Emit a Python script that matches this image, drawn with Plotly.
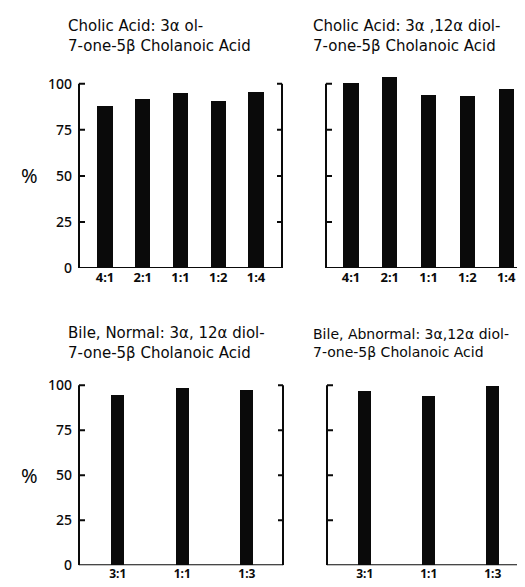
import plotly.graph_objects as go

W, H = 525, 587

# ---- data ----
cats_top = ["4:1", "2:1", "1:1", "1:2", "1:4"]
cats_bot = ["3:1", "1:1", "1:3"]
vals_tl = [88, 92, 95, 91, 95.5]
vals_tr = [100.5, 104, 94, 93.5, 97.5]
vals_bl = [94.5, 98, 97.3]
vals_br = [96.7, 94, 99.5]
yticks = [0, 25, 50, 75, 100]

titles = [
    "Cholic Acid: 3\u03b1 ol-<br>7-one-5\u03b2 Cholanoic Acid",
    "Cholic Acid: 3\u03b1 ,12\u03b1 diol-<br>7-one-5\u03b2 Cholanoic Acid",
    "Bile, Normal: 3\u03b1, 12\u03b1 diol-<br>7-one-5\u03b2 Cholanoic Acid",
    "Bile, Abnormal: 3\u03b1,12\u03b1 diol-<br>7-one-5\u03b2 Cholanoic Acid",
]

FONT = "Noto Sans"
TFONT = "DejaVu Sans"
INK = "#0a0a0a"

def px_x(p):
    return p / W

def px_y(p):
    return 1 - p / H

YMAX = 106
panels = [
    dict(l=71, r=274, b=264, t=77, ty=28, tx=58, tfs=15, cats=cats_top, vals=vals_tl, xr=[-0.69, 4.69], bw=0.4, left=True, fs=13),
    dict(l=318, r=516, b=264, t=77, ty=28, tx=303, tfs=15, cats=cats_top, vals=vals_tr, xr=[-0.645, 4.46], bw=0.39, left=False, fs=13),
    dict(l=71, r=275, b=566, t=383, ty=340, tx=58, tfs=15, cats=cats_bot, vals=vals_bl, xr=[-0.6, 2.56], bw=0.2, left=True, fs=12),
    dict(l=319, r=518, b=566, t=383, ty=340, tx=303, tfs=14, cats=cats_bot, vals=vals_br, xr=[-0.59, 2.52], bw=0.2, left=False, fs=12),
]

fig = go.Figure()
shapes = []
annotations = []

for i, p in enumerate(panels):
    n = "" if i == 0 else str(i + 1)
    xa, ya = "x" + n, "y" + n
    scale = (p["b"] - p["t"]) / 100.0
    top_px = p["b"] - YMAX * scale
    fig.add_trace(go.Bar(
        x=list(range(len(p["cats"]))), y=p["vals"], width=p["bw"],
        marker=dict(color=INK, line=dict(width=0)),
        xaxis=xa, yaxis=ya, showlegend=False, hoverinfo="y",
    ))
    fig.layout["xaxis" + n] = dict(
        domain=[px_x(p["l"]), px_x(p["r"])], range=p["xr"], anchor=ya,
        tickmode="array", tickvals=list(range(len(p["cats"]))), ticktext=p["cats"],
        showgrid=False, zeroline=False, showline=False, ticks="",
        tickfont=dict(family=FONT, size=p["fs"], color=INK, weight="bold"),
        ticklabelstandoff=0, fixedrange=True,
    )
    fig.layout["yaxis" + n] = dict(
        domain=[px_y(p["b"]), px_y(top_px)], range=[0, YMAX], anchor=xa,
        tickmode="array", tickvals=yticks, ticktext=[str(v) for v in yticks],
        showticklabels=p["left"], showgrid=False, zeroline=False, showline=False,
        ticks="", tickfont=dict(family=FONT, size=14, color=INK, weight=500),
        ticklabelstandoff=6, fixedrange=True,
    )
    wpx = p["r"] - p["l"]
    line = dict(color=INK, width=2)
    xd = xa + " domain"
    shapes.append(dict(type="line", xref=xd, yref=ya, x0=0, x1=0, y0=0, y1=100, line=line))
    shapes.append(dict(type="line", xref=xd, yref=ya, x0=1, x1=1, y0=0, y1=100, line=line))
    shapes.append(dict(type="line", xref=xd, yref=ya, x0=0, x1=1, y0=0, y1=0, line=line))
    for v in yticks[1:]:
        shapes.append(dict(type="line", xref=xd, yref=ya, x0=0, x1=6 / wpx, y0=v, y1=v, line=line))
        shapes.append(dict(type="line", xref=xd, yref=ya, x0=1 - 5 / wpx, x1=1, y0=v, y1=v, line=line))
    annotations.append(dict(
        text=titles[i], xref="paper", yref="paper", x=px_x(p["tx"]), y=px_y(p["ty"]),
        xanchor="left", yanchor="middle", align="left", showarrow=False,
        font=dict(family=TFONT, size=p["tfs"], color=INK),
    ))
    if p["left"]:
        annotations.append(dict(
            text="%", xref="paper", yref="paper", x=px_x(21), y=px_y(p["b"] - 50 * scale),
            xanchor="center", yanchor="middle", showarrow=False,
            font=dict(family=FONT, size=20, color=INK),
        ))

fig.update_layout(
    width=W, height=H, margin=dict(l=0, r=0, t=0, b=0),
    paper_bgcolor="white", plot_bgcolor="white",
    shapes=shapes, annotations=annotations, bargap=0,
)

fig.write_html("out.html")
